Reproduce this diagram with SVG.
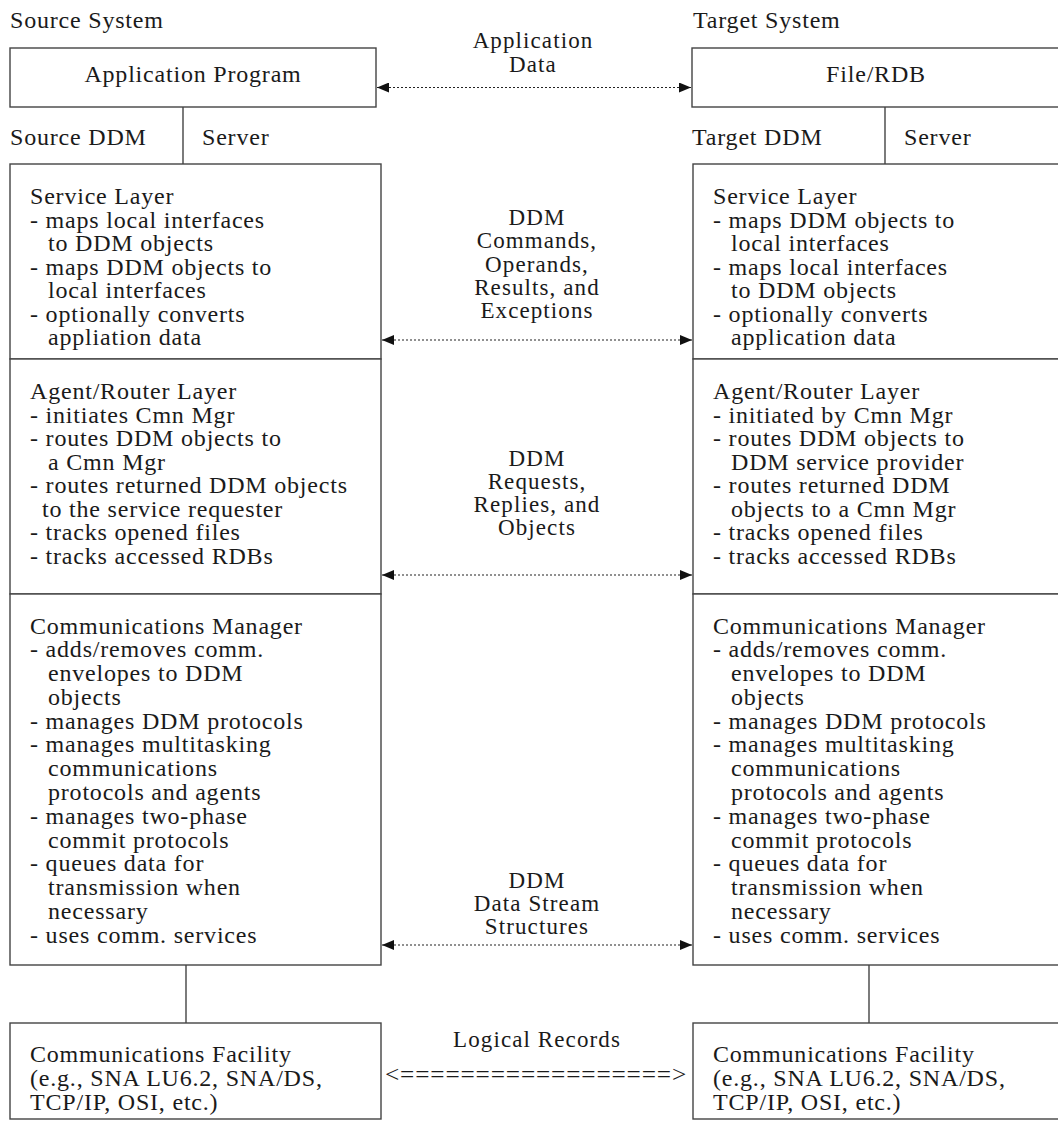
<svg xmlns="http://www.w3.org/2000/svg" width="1058" height="1121" viewBox="0 0 1058 1121">
<style>
text{font-family:"Liberation Serif","Times New Roman",serif;font-size:24px;letter-spacing:0.8px;fill:#1a1a1a}
.c{text-anchor:middle}
.m{font-size:23px;letter-spacing:1.1px}
.box{fill:#fff;stroke:#444;stroke-width:1.4}
.ln{stroke:#444;stroke-width:1.4;fill:none}
.dot{stroke:#222;stroke-width:1.2;stroke-dasharray:2 2;fill:none;marker-start:url(#ah);marker-end:url(#ah)}
</style>
<defs>
<marker id="ah" viewBox="0 0 12 10" refX="12" refY="5" markerWidth="12" markerHeight="10" markerUnits="userSpaceOnUse" orient="auto-start-reverse">
<path d="M0,0 L12,5 L0,10 Z" fill="#111"/>
</marker>
</defs>
<rect width="1058" height="1121" fill="#fff"/>

<g id="source-title"><text x="10" y="28">Source System</text></g>
<g id="target-title"><text x="693" y="28">Target System</text></g>

<g id="app-program">
<rect class="box" x="10" y="48" width="366" height="59"/>
<text class="c" x="193" y="82">Application Program</text>
</g>
<g id="file-rdb">
<rect class="box" x="692" y="48" width="400" height="59"/>
<text class="c" x="876" y="82">File/RDB</text>
</g>

<g id="source-ddm-server">
<text x="10" y="145">Source DDM</text>
<text x="202" y="145">Server</text>
</g>
<g id="target-ddm-server">
<text x="692" y="145">Target DDM</text>
<text x="904" y="145">Server</text>
</g>

<g id="source-service-layer">
<rect class="box" x="10" y="164" width="371" height="195"/>
<text x="30" y="204"><tspan x="30" y="204">Service Layer</tspan><tspan x="30" y="227.5">- maps local interfaces</tspan><tspan x="48" y="251">to DDM objects</tspan><tspan x="30" y="274.5">- maps DDM objects to</tspan><tspan x="48" y="298">local interfaces</tspan><tspan x="30" y="321.5">- optionally converts</tspan><tspan x="48" y="345">appliation data</tspan></text>
</g>
<g id="source-agent-layer">
<rect class="box" x="10" y="359" width="371" height="235"/>
<text x="30" y="399"><tspan x="30" y="399">Agent/Router Layer</tspan><tspan x="30" y="422.5">- initiates Cmn Mgr</tspan><tspan x="30" y="446">- routes DDM objects to</tspan><tspan x="48" y="469.5">a Cmn Mgr</tspan><tspan x="30" y="493">- routes returned DDM objects</tspan><tspan x="42" y="516.5">to the service requester</tspan><tspan x="30" y="540">- tracks opened files</tspan><tspan x="30" y="563.5">- tracks accessed RDBs</tspan></text>
</g>
<g id="source-comm-manager">
<rect class="box" x="10" y="594" width="371" height="371"/>
<text x="30" y="633.5"><tspan x="30" y="633.5">Communications Manager</tspan><tspan x="30" y="657.3">- adds/removes comm.</tspan><tspan x="48" y="681">envelopes to DDM</tspan><tspan x="48" y="704.8">objects</tspan><tspan x="30" y="728.6">- manages DDM protocols</tspan><tspan x="30" y="752.4">- manages multitasking</tspan><tspan x="48" y="776.1">communications</tspan><tspan x="48" y="799.9">protocols and agents</tspan><tspan x="30" y="823.7">- manages two-phase</tspan><tspan x="48" y="847.5">commit protocols</tspan><tspan x="30" y="871.2">- queues data for</tspan><tspan x="48" y="895">transmission when</tspan><tspan x="48" y="918.8">necessary</tspan><tspan x="30" y="942.5">- uses comm. services</tspan></text>
</g>

<g id="target-service-layer">
<rect class="box" x="693" y="164" width="400" height="195"/>
<text x="713" y="204"><tspan x="713" y="204">Service Layer</tspan><tspan x="713" y="227.5">- maps DDM objects to</tspan><tspan x="731" y="251">local interfaces</tspan><tspan x="713" y="274.5">- maps local interfaces</tspan><tspan x="731" y="298">to DDM objects</tspan><tspan x="713" y="321.5">- optionally converts</tspan><tspan x="731" y="345">application data</tspan></text>
</g>
<g id="target-agent-layer">
<rect class="box" x="693" y="359" width="400" height="235"/>
<text x="713" y="399"><tspan x="713" y="399">Agent/Router Layer</tspan><tspan x="713" y="422.5">- initiated by Cmn Mgr</tspan><tspan x="713" y="446">- routes DDM objects to</tspan><tspan x="731" y="469.5">DDM service provider</tspan><tspan x="713" y="493">- routes returned DDM</tspan><tspan x="731" y="516.5">objects to a Cmn Mgr</tspan><tspan x="713" y="540">- tracks opened files</tspan><tspan x="713" y="563.5">- tracks accessed RDBs</tspan></text>
</g>
<g id="target-comm-manager">
<rect class="box" x="693" y="594" width="400" height="371"/>
<text x="713" y="633.5"><tspan x="713" y="633.5">Communications Manager</tspan><tspan x="713" y="657.3">- adds/removes comm.</tspan><tspan x="731" y="681">envelopes to DDM</tspan><tspan x="731" y="704.8">objects</tspan><tspan x="713" y="728.6">- manages DDM protocols</tspan><tspan x="713" y="752.4">- manages multitasking</tspan><tspan x="731" y="776.1">communications</tspan><tspan x="731" y="799.9">protocols and agents</tspan><tspan x="713" y="823.7">- manages two-phase</tspan><tspan x="731" y="847.5">commit protocols</tspan><tspan x="713" y="871.2">- queues data for</tspan><tspan x="731" y="895">transmission when</tspan><tspan x="731" y="918.8">necessary</tspan><tspan x="713" y="942.5">- uses comm. services</tspan></text>
</g>

<g id="source-comm-facility">
<rect class="box" x="10" y="1023" width="371" height="96"/>
<text x="30" y="1062"><tspan x="30" y="1062">Communications Facility</tspan><tspan x="30" y="1086">(e.g., SNA LU6.2, SNA/DS,</tspan><tspan x="30" y="1110">TCP/IP, OSI, etc.)</tspan></text>
</g>
<g id="target-comm-facility">
<rect class="box" x="693" y="1023" width="400" height="96"/>
<text x="713" y="1062"><tspan x="713" y="1062">Communications Facility</tspan><tspan x="713" y="1086">(e.g., SNA LU6.2, SNA/DS,</tspan><tspan x="713" y="1110">TCP/IP, OSI, etc.)</tspan></text>
</g>

<g id="connectors">
<line class="ln" x1="183" y1="107" x2="183" y2="164"/>
<line class="ln" x1="885" y1="107" x2="885" y2="164"/>
<line class="ln" x1="186" y1="965" x2="186" y2="1023"/>
<line class="ln" x1="869" y1="965" x2="869" y2="1023"/>
<line class="dot" x1="377" y1="87.5" x2="691" y2="87.5"/>
<line class="dot" x1="382" y1="340" x2="692" y2="340"/>
<line class="dot" x1="382" y1="575" x2="692" y2="575"/>
<line class="dot" x1="382" y1="945" x2="692" y2="945"/>
</g>

<g id="labels">
<text class="c m" x="533" y="48"><tspan x="533" y="48">Application</tspan><tspan x="533" y="71.5">Data</tspan></text>
<text class="c m" x="537" y="225"><tspan x="537" y="225">DDM</tspan><tspan x="537" y="248">Commands,</tspan><tspan x="537" y="271.5">Operands,</tspan><tspan x="537" y="294.5">Results, and</tspan><tspan x="537" y="318">Exceptions</tspan></text>
<text class="c m" x="537" y="466"><tspan x="537" y="466">DDM</tspan><tspan x="537" y="489">Requests,</tspan><tspan x="537" y="512">Replies, and</tspan><tspan x="537" y="535">Objects</tspan></text>
<text class="c m" x="537" y="888"><tspan x="537" y="888">DDM</tspan><tspan x="537" y="911">Data Stream</tspan><tspan x="537" y="934">Structures</tspan></text>
<text class="c m" x="537" y="1047">Logical Records</text>
<text x="385" y="1082" textLength="302" lengthAdjust="spacingAndGlyphs">&lt;==================&gt;</text>
</g>
</svg>
